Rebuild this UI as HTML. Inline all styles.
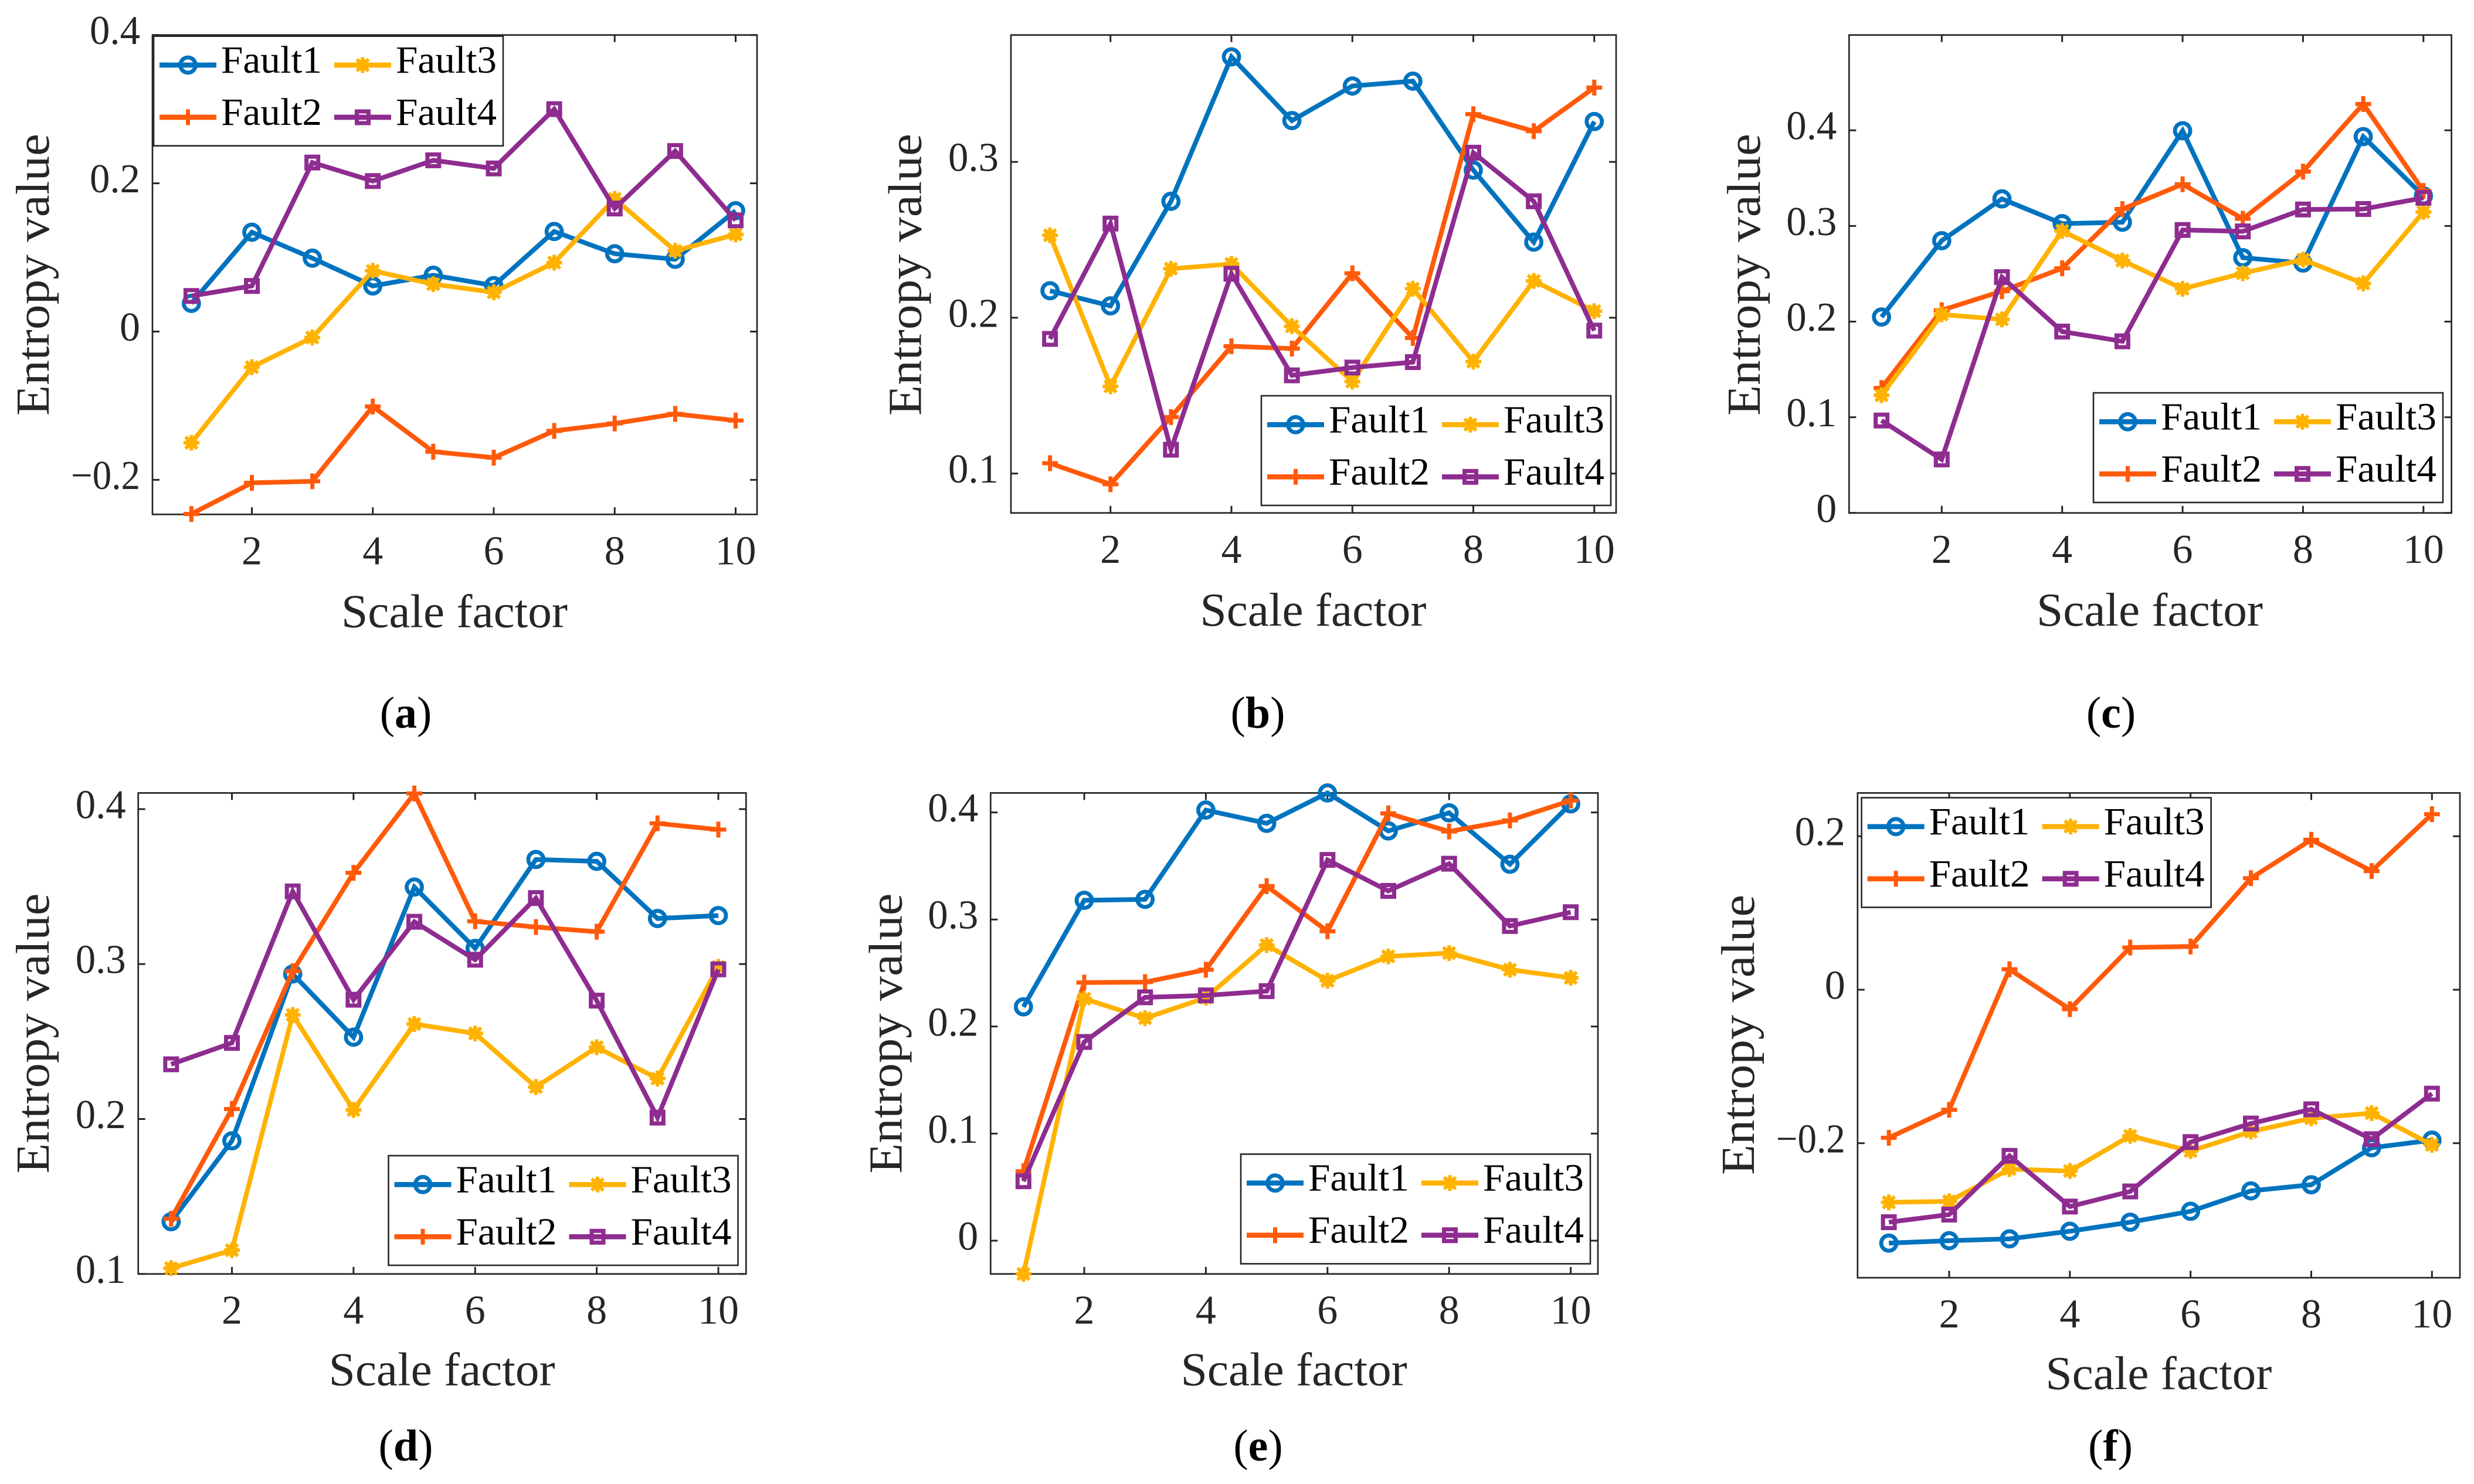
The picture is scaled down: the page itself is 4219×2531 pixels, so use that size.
<!DOCTYPE html>
<html lang="en">
<head>
<meta charset="utf-8">
<title>Entropy value vs scale factor</title>
<style>
html,body{margin:0;padding:0;background:#fff;}
svg{display:block;}
text{font-family:"Liberation Serif",serif;}
</style>
</head>
<body>
<svg id="figure" xmlns="http://www.w3.org/2000/svg" width="4219" height="2531" viewBox="0 0 4219 2531"></svg>
<script>
const scaleFactors = [1,2,3,4,5,6,7,8,9,10];
const xTickValues = [2,4,6,8,10];
const seriesNames = ['Fault1','Fault2','Fault3','Fault4'];
const xAxisTitle = 'Scale factor';
const yAxisTitle = 'Entropy value';

const aFault1 = [0.038,0.134,0.099,0.0615,0.076,0.062,0.135,0.105,0.0975,0.163];
const aFault2 = [-0.246,-0.204,-0.202,-0.101,-0.162,-0.170,-0.134,-0.124,-0.111,-0.120];
const aFault3 = [-0.15,-0.048,-0.008,0.082,0.064,0.053,0.093,0.179,0.109,0.131];
const aFault4 = [0.048,0.0615,0.228,0.203,0.231,0.22,0.30,0.166,0.2435,0.15];
const aYTicks = [-0.2,0,0.2,0.4];
const aYLabels = ['\u22120.2','0','0.2','0.4'];

const bFault1 = [0.2173,0.2076,0.2747,0.3674,0.3265,0.3487,0.3518,0.2947,0.2485,0.3259];
const bFault2 = [0.1066,0.0931,0.1362,0.1817,0.1802,0.2285,0.187,0.3306,0.3197,0.3477];
const bFault3 = [0.2529,0.1559,0.2314,0.2345,0.1945,0.159,0.2186,0.1718,0.2236,0.2042];
const bFault4 = [0.1864,0.2604,0.1153,0.2282,0.163,0.168,0.1715,0.3059,0.2747,0.1917];
const bYTicks = [0.1,0.2,0.3];
const bYLabels = ['0.1','0.2','0.3'];

const cFault1 = [0.2048,0.2846,0.3283,0.3024,0.3039,0.3995,0.2668,0.2612,0.3934,0.3314];
const cFault2 = [0.1306,0.2119,0.2318,0.2557,0.3177,0.3436,0.3075,0.3568,0.4275,0.3365];
const cFault3 = [0.123,0.2074,0.2023,0.2948,0.2638,0.2343,0.2506,0.2648,0.2399,0.3146];
const cFault4 = [0.0966,0.0559,0.2465,0.1896,0.1794,0.2958,0.2943,0.3172,0.3177,0.3294];
const cYTicks = [0,0.1,0.2,0.3,0.4];
const cYLabels = ['0','0.1','0.2','0.3','0.4'];

const dFault1 = [0.1337,0.1859,0.2936,0.2528,0.3497,0.3101,0.3675,0.3663,0.3294,0.3313];
const dFault2 = [0.1356,0.2064,0.2954,0.3589,0.4101,0.3276,0.3239,0.3209,0.3908,0.3868];
const dFault3 = [0.1037,0.1153,0.2672,0.2058,0.2613,0.2552,0.2206,0.2463,0.2261,0.2982];
const dFault4 = [0.2353,0.2491,0.3469,0.277,0.3273,0.3028,0.3426,0.2764,0.2009,0.2966];
const dYTicks = [0.1,0.2,0.3,0.4];
const dYLabels = ['0.1','0.2','0.3','0.4'];

const eFault1 = [0.2184,0.3179,0.3188,0.4022,0.3898,0.4182,0.3827,0.3996,0.3516,0.408];
const eFault2 = [0.0648,0.2411,0.2415,0.2531,0.3312,0.289,0.3991,0.3822,0.3925,0.4111];
const eFault3 = [-0.0311,0.226,0.2078,0.2269,0.2761,0.2428,0.2655,0.2686,0.2531,0.2455];
const eFault4 = [0.0555,0.1856,0.2273,0.2291,0.2331,0.3556,0.3267,0.3521,0.2939,0.3068];
const eYTicks = [0,0.1,0.2,0.3,0.4];
const eYLabels = ['0','0.1','0.2','0.3','0.4'];

const fFault1 = [-0.3301,-0.327,-0.3246,-0.3147,-0.3029,-0.2887,-0.2621,-0.2541,-0.2059,-0.196];
const fFault2 = [-0.1929,-0.1564,0.0266,-0.0253,0.055,0.0563,0.1453,0.1954,0.1546,0.2287];
const fFault3 = [-0.277,-0.2757,-0.2337,-0.2362,-0.1904,-0.2102,-0.1849,-0.1675,-0.1607,-0.2022];
const fFault4 = [-0.3029,-0.293,-0.2164,-0.2825,-0.2628,-0.1985,-0.1743,-0.1558,-0.1947,-0.1354];
const fYTicks = [-0.2,0,0.2];
const fYLabels = ['\u22120.2','0','0.2'];

const NS = 'http://www.w3.org/2000/svg';
const INK = '#262626';
const COLORS = ['#0073BF','#FF5A0A','#FFB200','#8E2C90'];
const MARKERS = ['circle','plus','star','square'];
const LINE_W = 8;
const root = document.getElementById('figure');

const panels = [
 {id:'a',series:[aFault1,aFault2,aFault3,aFault4],yTicks:aYTicks,yLabels:aYLabels,
  box:[260,59.7,1291,877.3],xr:[429.5,1254.5],yd:[0,0.4],yr:[565.5,59.7],
  legend:[262,61.7],yTitle:[83,468.5,481],xTitle:[775,1069.5],cap:[692,1241]},
 {id:'b',series:[bFault1,bFault2,bFault3,bFault4],yTicks:bYTicks,yLabels:bYLabels,
  box:[1724,59.7,2756,874.8],xr:[1893.75,2718.75],yd:[0.1,0.3],yr:[807.6,276.1],
  legend:[2151,675],yTitle:[1570.5,468.5,481],xTitle:[2239.5,1067],cap:[2145,1241]},
 {id:'c',series:[cFault1,cFault2,cFault3,cFault4],yTicks:cYTicks,yLabels:cYLabels,
  box:[3153.3,59.7,4180.6,874.8],xr:[3311.3,4132.8],yd:[0,0.4],yr:[874.8,222.2],
  legend:[3570,670],yTitle:[3001,468.5,481],xTitle:[3666,1067],cap:[3600,1241]},
 {id:'d',series:[dFault1,dFault2,dFault3,dFault4],yTicks:dYTicks,yLabels:dYLabels,
  box:[235.7,1352.4,1272.3,2172.7],xr:[395.5,1225],yd:[0.1,0.4],yr:[2172.7,1380],
  legend:[662.5,1971],yTitle:[83,1762.6,478],xTitle:[753.6,2362.4],cap:[692,2491]},
 {id:'e',series:[eFault1,eFault2,eFault3,eFault4],yTicks:eYTicks,yLabels:eYLabels,
  box:[1689.3,1352.4,2725,2172.7],xr:[1849,2678.6],yd:[0,0.4],yr:[2116,1385.6],
  legend:[2116,1968.4],yTitle:[1537.5,1762.6,478],xTitle:[2206.7,2362.4],cap:[2145.5,2491]},
 {id:'f',series:[fFault1,fFault2,fFault3,fFault4],yTicks:fYTicks,yLabels:fYLabels,
  box:[3167.8,1352.4,4195,2179.2],xr:[3324,4147.3],yd:[0,0.2],yr:[1688,1426.2],
  legend:[3174.6,1360.5],yTitle:[2991,1765,478],xTitle:[3681.4,2369],cap:[3599,2491]}
];

function svgEl(tag, attrs, parent){
  const n = document.createElementNS(NS, tag);
  for (const k in attrs) n.setAttribute(k, attrs[k]);
  parent.appendChild(n);
  return n;
}

function drawMarker(parent, kind, x, y, color){
  const g = svgEl('g', {fill:'none', stroke:color}, parent);
  if (kind === 'circle'){
    svgEl('circle', {cx:x, cy:y, r:13, 'stroke-width':6.8}, g);
  } else if (kind === 'square'){
    svgEl('rect', {x:x-10, y:y-10, width:20, height:20, 'stroke-width':7}, g);
  } else if (kind === 'plus'){
    svgEl('path', {d:`M${x-13.5} ${y}H${x+13.5}M${x} ${y-13.5}V${y+13.5}`, 'stroke-width':7}, g);
  } else {
    svgEl('circle', {cx:x, cy:y, r:10, fill:color, stroke:'none'}, g);
    svgEl('path', {d:`M${x-13.5} ${y}H${x+13.5}M${x} ${y-13.5}V${y+13.5}M${x-10} ${y-10}L${x+10} ${y+10}M${x-10} ${y+10}L${x+10} ${y-10}`, 'stroke-width':6}, g);
  }
  return g;
}

panels.forEach(function(p){
  const [L,T,R,B] = p.box;
  const xScale = v => p.xr[0] + (v - 2) * (p.xr[1] - p.xr[0]) / 8;
  const yScale = v => p.yr[0] + (v - p.yd[0]) * (p.yr[1] - p.yr[0]) / (p.yd[1] - p.yd[0]);

  const panel = svgEl('g', {}, root);
  
  

  const frame = svgEl('rect', {x:L, y:T, width:R-L, height:B-T, fill:'none', stroke:INK, 'stroke-width':2.7}, panel);
  
  

  xTickValues.forEach(function(t){
    const x = xScale(t);
    const tick = svgEl('path', {d:`M${x} ${B}V${B-12}M${x} ${T}V${T+12}`, stroke:INK, 'stroke-width':3, fill:'none'}, panel);
    
    
    const lab = svgEl('text', {x:x, y:B+85, 'text-anchor':'middle', 'font-size':70, fill:INK}, panel);
    lab.textContent = String(t);
    
    
  });

  p.yTicks.forEach(function(t, i){
    const y = yScale(t);
    const tick = svgEl('path', {d:`M${L} ${y}H${L+12}M${R} ${y}H${R-12}`, stroke:INK, 'stroke-width':3, fill:'none'}, panel);
    
    
    const lab = svgEl('text', {x:L-21, y:y+15.5, 'text-anchor':'end', 'font-size':70, fill:INK}, panel);
    lab.textContent = p.yLabels[i];
    if (p.yLabels[i].length === 3) lab.setAttribute('textLength', 86);
    if (p.yLabels[i].length === 4) lab.setAttribute('textLength', 118);
    if (p.yLabels[i].length > 1) lab.setAttribute('lengthAdjust', 'spacingAndGlyphs');
    
    
  });

  p.series.forEach(function(vals, si){
    const color = COLORS[si];
    const sg = svgEl('g', {}, panel);
    
    
    const pts = vals.map((v, i) => xScale(scaleFactors[i]).toFixed(1) + ',' + yScale(v).toFixed(1)).join(' ');
    const line = svgEl('polyline', {points:pts, fill:'none', stroke:color, 'stroke-width':LINE_W, 'stroke-linejoin':'miter', 'stroke-miterlimit':6}, sg);
    
    
    vals.forEach(function(v, i){
      const m = drawMarker(sg, MARKERS[si], xScale(scaleFactors[i]), yScale(v), color);
      
      
    });
  });

  const xt = svgEl('text', {x:p.xTitle[0], y:p.xTitle[1], 'text-anchor':'middle', 'font-size':80, fill:INK, textLength:386, lengthAdjust:'spacingAndGlyphs'}, panel);
  xt.textContent = xAxisTitle;
  
  

  const yt = svgEl('text', {transform:`translate(${p.yTitle[0]} ${p.yTitle[1]}) rotate(-90)`, x:0, y:0, 'text-anchor':'middle', 'font-size':80, fill:INK, textLength:p.yTitle[2], lengthAdjust:'spacingAndGlyphs'}, panel);
  yt.textContent = yAxisTitle;
  
  

  const [lx, ly] = p.legend;
  const lg = svgEl('g', {}, panel);
  
  
  const lbox = svgEl('rect', {x:lx, y:ly, width:596, height:187, fill:'#fff', stroke:INK, 'stroke-width':2.6}, lg);
  
  
  const colX = [0, 298];
  const rowY = [49.3, 138.3];
  seriesNames.forEach(function(name, si){
    const c = colX[si < 2 ? 0 : 1];
    const r = rowY[si % 2];
    const entry = svgEl('g', {}, lg);
    
    
    svgEl('line', {x1:lx+10+c, x2:lx+107+c, y1:ly+r, y2:ly+r, stroke:COLORS[si], 'stroke-width':8.7}, entry);
    drawMarker(entry, MARKERS[si], lx+58.5+c, ly+r, COLORS[si]);
    const lt = svgEl('text', {x:lx+115+c, y:ly+r+13, 'font-size':66, fill:'#000', textLength:172, lengthAdjust:'spacingAndGlyphs'}, entry);
    lt.textContent = name;
    
    
  });

  const cap = svgEl('text', {x:p.cap[0], y:p.cap[1], 'text-anchor':'middle', 'font-size':76, fill:'#000'}, panel);
  
  
  cap.appendChild(document.createTextNode('('));
  const capB = svgEl('tspan', {'font-weight':'bold'}, cap);
  capB.textContent = p.id;
  cap.appendChild(document.createTextNode(')'));
});
</script>
</body>
</html>
